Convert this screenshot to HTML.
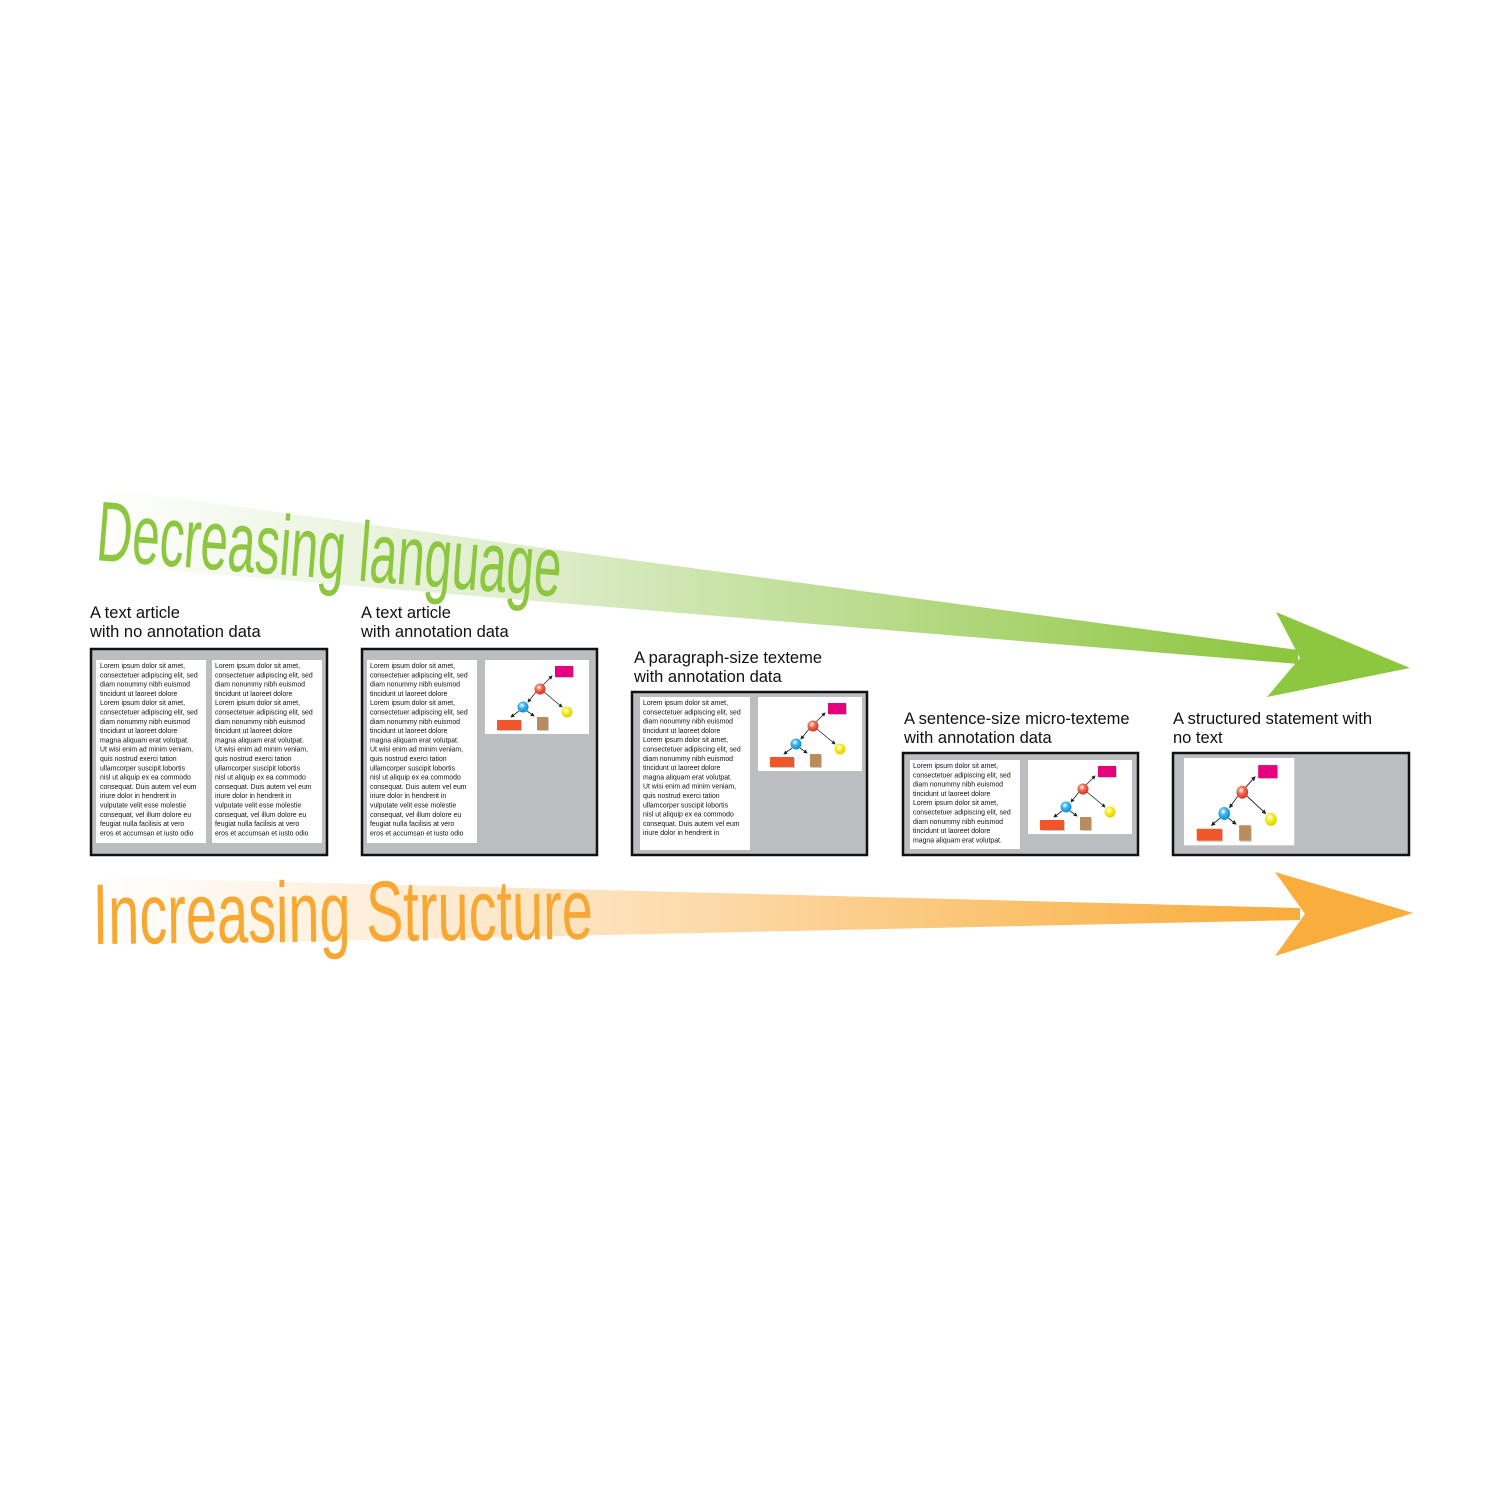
<!DOCTYPE html>
<html><head><meta charset="utf-8"><style>
html,body{margin:0;padding:0;background:#fff}
svg{display:block}
.lo{font-family:"Liberation Sans",sans-serif;font-size:6.9px;fill:#111}
.cap{font-family:"Liberation Sans",sans-serif;font-size:16.5px;fill:#111}
</style></head><body>
<svg width="1500" height="1500" viewBox="0 0 1500 1500" xmlns="http://www.w3.org/2000/svg">
<defs>
<linearGradient id="gg" x1="95" y1="0" x2="1410" y2="0" gradientUnits="userSpaceOnUse">
<stop offset="0" stop-color="#fff"/><stop offset="0.35" stop-color="#dcecc8"/><stop offset="0.9" stop-color="#8dc63f"/><stop offset="1" stop-color="#8dc63f"/></linearGradient>
<linearGradient id="og" x1="95" y1="0" x2="1413" y2="0" gradientUnits="userSpaceOnUse">
<stop offset="0" stop-color="#fff"/><stop offset="0.4" stop-color="#fde0b8"/><stop offset="0.9" stop-color="#f9ad3c"/><stop offset="1" stop-color="#f9ad3c"/></linearGradient>
<radialGradient id="rr" cx="0.4" cy="0.35" r="0.7"><stop offset="0" stop-color="#fff"/><stop offset="0.4" stop-color="#f26b4f"/><stop offset="1" stop-color="#d02a1a"/></radialGradient>
<radialGradient id="bb" cx="0.4" cy="0.35" r="0.7"><stop offset="0" stop-color="#fff"/><stop offset="0.4" stop-color="#3ab4f0"/><stop offset="1" stop-color="#0a86d0"/></radialGradient>
<radialGradient id="yy" cx="0.4" cy="0.35" r="0.7"><stop offset="0" stop-color="#fff"/><stop offset="0.4" stop-color="#f8f020"/><stop offset="1" stop-color="#d8c800"/></radialGradient>
<marker id="ah" markerWidth="5" markerHeight="5" refX="4" refY="2.5" orient="auto"><path d="M0,0 L5,2.5 L0,5z" fill="#222"/></marker>
<g id="dg">
<rect x="0" y="0" width="104" height="74" fill="#fff"/>
<g stroke="#222" stroke-width="0.8" marker-end="url(#ah)">
<line x1="58" y1="25" x2="67" y2="16"/><line x1="51" y1="32" x2="43" y2="42"/><line x1="59" y1="32" x2="77" y2="47"/><line x1="34" y1="51" x2="26" y2="57"/><line x1="42" y1="51" x2="49" y2="56"/>
</g>
<rect x="71" y="7" width="18" height="11" fill="#777" opacity="0.4"/>
<rect x="70" y="6" width="18" height="11" fill="#e6007e"/>
<rect x="13" y="61" width="24" height="10" fill="#777" opacity="0.4"/>
<rect x="12" y="60" width="24" height="10" fill="#f0562a"/>
<rect x="53" y="58" width="11" height="13" fill="#777" opacity="0.4"/>
<rect x="52" y="57" width="11" height="13" fill="#b98c5e"/>
<circle cx="55" cy="29" r="5.5" fill="url(#rr)"/>
<circle cx="38" cy="47" r="5.5" fill="url(#bb)"/>
<circle cx="82" cy="52" r="5.5" fill="url(#yy)"/>
</g>
</defs>

<!-- green arrow -->
<polygon points="100,488 1298,650 1298,664 100,565" fill="url(#gg)"/>
<polygon points="1276,612 1410,668 1267,697 1300,658" fill="#8dc63f"/>
<text transform="translate(95,560) rotate(4.5) scale(0.58,1)" font-family="Liberation Sans,sans-serif" font-size="85" fill="#8dc63f">Decreasing language</text>

<!-- orange arrow -->
<polygon points="95,877 1300,908 1300,920 95,946" fill="url(#og)"/>
<polygon points="1275,872 1413,913 1275,956 1305,914" fill="#f9ad3c"/>
<text transform="translate(93,944) rotate(-0.6) scale(0.65,1)" font-family="Liberation Sans,sans-serif" font-size="86" fill="#f7a833">Increasing Structure</text>

<!-- captions -->
<text class="cap" x="90" y="618">A text article</text><text class="cap" x="90" y="637">with no annotation data</text>
<text class="cap" x="361" y="618">A text article</text><text class="cap" x="361" y="637">with annotation data</text>
<text class="cap" x="634" y="663">A paragraph-size texteme</text><text class="cap" x="634" y="682">with annotation data</text>
<text class="cap" x="904" y="724">A sentence-size micro-texteme</text><text class="cap" x="904" y="743">with annotation data</text>
<text class="cap" x="1173" y="724">A structured statement with</text><text class="cap" x="1173" y="743">no text</text>

<!-- box 1 -->
<rect x="91" y="649" width="236" height="206" fill="#bcbdc0" stroke="#111" stroke-width="2.5"/>
<rect x="96" y="660" width="110" height="183" fill="#fff"/>
<rect x="212" y="660" width="110" height="183" fill="#fff"/>
<text class="lo" x="100" y="668"><tspan x="100">Lorem ipsum dolor sit amet,</tspan><tspan x="100" dy="9.3">consectetuer adipiscing elit, sed</tspan><tspan x="100" dy="9.3">diam nonummy nibh euismod</tspan><tspan x="100" dy="9.3">tincidunt ut laoreet dolore</tspan><tspan x="100" dy="9.3">Lorem ipsum dolor sit amet,</tspan><tspan x="100" dy="9.3">consectetuer adipiscing elit, sed</tspan><tspan x="100" dy="9.3">diam nonummy nibh euismod</tspan><tspan x="100" dy="9.3">tincidunt ut laoreet dolore</tspan><tspan x="100" dy="9.3">magna aliquam erat volutpat.</tspan><tspan x="100" dy="9.3">Ut wisi enim ad minim veniam,</tspan><tspan x="100" dy="9.3">quis nostrud exerci tation</tspan><tspan x="100" dy="9.3">ullamcorper suscipit lobortis</tspan><tspan x="100" dy="9.3">nisl ut aliquip ex ea commodo</tspan><tspan x="100" dy="9.3">consequat. Duis autem vel eum</tspan><tspan x="100" dy="9.3">iriure dolor in hendrerit in</tspan><tspan x="100" dy="9.3">vulputate velit esse molestie</tspan><tspan x="100" dy="9.3">consequat, vel illum dolore eu</tspan><tspan x="100" dy="9.3">feugiat nulla facilisis at vero</tspan><tspan x="100" dy="9.3">eros et accumsan et iusto odio</tspan></text>
<text class="lo" x="215" y="668"><tspan x="215">Lorem ipsum dolor sit amet,</tspan><tspan x="215" dy="9.3">consectetuer adipiscing elit, sed</tspan><tspan x="215" dy="9.3">diam nonummy nibh euismod</tspan><tspan x="215" dy="9.3">tincidunt ut laoreet dolore</tspan><tspan x="215" dy="9.3">Lorem ipsum dolor sit amet,</tspan><tspan x="215" dy="9.3">consectetuer adipiscing elit, sed</tspan><tspan x="215" dy="9.3">diam nonummy nibh euismod</tspan><tspan x="215" dy="9.3">tincidunt ut laoreet dolore</tspan><tspan x="215" dy="9.3">magna aliquam erat volutpat.</tspan><tspan x="215" dy="9.3">Ut wisi enim ad minim veniam,</tspan><tspan x="215" dy="9.3">quis nostrud exerci tation</tspan><tspan x="215" dy="9.3">ullamcorper suscipit lobortis</tspan><tspan x="215" dy="9.3">nisl ut aliquip ex ea commodo</tspan><tspan x="215" dy="9.3">consequat. Duis autem vel eum</tspan><tspan x="215" dy="9.3">iriure dolor in hendrerit in</tspan><tspan x="215" dy="9.3">vulputate velit esse molestie</tspan><tspan x="215" dy="9.3">consequat, vel illum dolore eu</tspan><tspan x="215" dy="9.3">feugiat nulla facilisis at vero</tspan><tspan x="215" dy="9.3">eros et accumsan et iusto odio</tspan></text>

<!-- box 2 -->
<rect x="362" y="649" width="235" height="206" fill="#bcbdc0" stroke="#111" stroke-width="2.5"/>
<rect x="367" y="660" width="110" height="183" fill="#fff"/>
<text class="lo" x="370" y="668"><tspan x="370">Lorem ipsum dolor sit amet,</tspan><tspan x="370" dy="9.3">consectetuer adipiscing elit, sed</tspan><tspan x="370" dy="9.3">diam nonummy nibh euismod</tspan><tspan x="370" dy="9.3">tincidunt ut laoreet dolore</tspan><tspan x="370" dy="9.3">Lorem ipsum dolor sit amet,</tspan><tspan x="370" dy="9.3">consectetuer adipiscing elit, sed</tspan><tspan x="370" dy="9.3">diam nonummy nibh euismod</tspan><tspan x="370" dy="9.3">tincidunt ut laoreet dolore</tspan><tspan x="370" dy="9.3">magna aliquam erat volutpat.</tspan><tspan x="370" dy="9.3">Ut wisi enim ad minim veniam,</tspan><tspan x="370" dy="9.3">quis nostrud exerci tation</tspan><tspan x="370" dy="9.3">ullamcorper suscipit lobortis</tspan><tspan x="370" dy="9.3">nisl ut aliquip ex ea commodo</tspan><tspan x="370" dy="9.3">consequat. Duis autem vel eum</tspan><tspan x="370" dy="9.3">iriure dolor in hendrerit in</tspan><tspan x="370" dy="9.3">vulputate velit esse molestie</tspan><tspan x="370" dy="9.3">consequat, vel illum dolore eu</tspan><tspan x="370" dy="9.3">feugiat nulla facilisis at vero</tspan><tspan x="370" dy="9.3">eros et accumsan et iusto odio</tspan></text>
<use href="#dg" x="485" y="660"/>

<!-- box 3 -->
<rect x="632" y="692" width="235" height="163" fill="#bcbdc0" stroke="#111" stroke-width="2.5"/>
<rect x="640" y="697" width="110" height="153" fill="#fff"/>
<text class="lo" x="643" y="705"><tspan x="643">Lorem ipsum dolor sit amet,</tspan><tspan x="643" dy="9.3">consectetuer adipiscing elit, sed</tspan><tspan x="643" dy="9.3">diam nonummy nibh euismod</tspan><tspan x="643" dy="9.3">tincidunt ut laoreet dolore</tspan><tspan x="643" dy="9.3">Lorem ipsum dolor sit amet,</tspan><tspan x="643" dy="9.3">consectetuer adipiscing elit, sed</tspan><tspan x="643" dy="9.3">diam nonummy nibh euismod</tspan><tspan x="643" dy="9.3">tincidunt ut laoreet dolore</tspan><tspan x="643" dy="9.3">magna aliquam erat volutpat.</tspan><tspan x="643" dy="9.3">Ut wisi enim ad minim veniam,</tspan><tspan x="643" dy="9.3">quis nostrud exerci tation</tspan><tspan x="643" dy="9.3">ullamcorper suscipit lobortis</tspan><tspan x="643" dy="9.3">nisl ut aliquip ex ea commodo</tspan><tspan x="643" dy="9.3">consequat. Duis autem vel eum</tspan><tspan x="643" dy="9.3">iriure dolor in hendrerit in</tspan></text>
<use href="#dg" x="758" y="697"/>

<!-- box 4 -->
<rect x="903" y="753" width="235" height="102" fill="#bcbdc0" stroke="#111" stroke-width="2.5"/>
<rect x="910" y="760" width="110" height="89" fill="#fff"/>
<text class="lo" x="913" y="768"><tspan x="913">Lorem ipsum dolor sit amet,</tspan><tspan x="913" dy="9.3">consectetuer adipiscing elit, sed</tspan><tspan x="913" dy="9.3">diam nonummy nibh euismod</tspan><tspan x="913" dy="9.3">tincidunt ut laoreet dolore</tspan><tspan x="913" dy="9.3">Lorem ipsum dolor sit amet,</tspan><tspan x="913" dy="9.3">consectetuer adipiscing elit, sed</tspan><tspan x="913" dy="9.3">diam nonummy nibh euismod</tspan><tspan x="913" dy="9.3">tincidunt ut laoreet dolore</tspan><tspan x="913" dy="9.3">magna aliquam erat volutpat.</tspan></text>
<use href="#dg" x="1028" y="760"/>

<!-- box 5 -->
<rect x="1173" y="753" width="236" height="102" fill="#bcbdc0" stroke="#111" stroke-width="2.5"/>
<g transform="translate(1184,758) scale(1.06,1.18)"><use href="#dg"/></g>
</svg>
</body></html>
